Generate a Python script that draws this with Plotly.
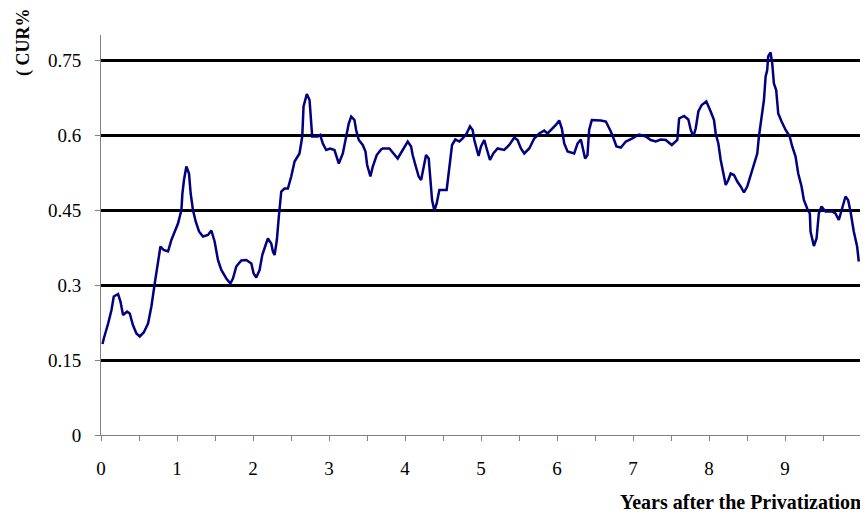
import plotly.graph_objects as go

years = [0.02, 0.037, 0.094, 0.138, 0.168, 0.225, 0.256, 0.29, 0.343, 0.378, 0.42, 0.466, 0.51, 0.562,
         0.619, 0.663, 0.707, 0.75, 0.782, 0.825, 0.882, 0.926, 0.97, 1.013, 1.058, 1.071, 1.092,
         1.123, 1.158, 1.18, 1.21, 1.246, 1.29, 1.342, 1.408, 1.452, 1.495, 1.539, 1.583, 1.649,
         1.702, 1.736, 1.78, 1.846, 1.912, 1.978, 2.008, 2.043, 2.087, 2.122, 2.166, 2.196, 2.24,
         2.262, 2.284, 2.314, 2.34, 2.372, 2.415, 2.459, 2.503, 2.547, 2.612, 2.648, 2.665, 2.708,
         2.744, 2.766, 2.779, 2.853, 2.884, 2.919, 2.963, 3.016, 3.072, 3.129, 3.182, 3.226, 3.26,
         3.292, 3.335, 3.357, 3.392, 3.444, 3.48, 3.502, 3.545, 3.576, 3.628, 3.686, 3.707, 3.795,
         3.861, 3.904, 3.97, 4.036, 4.08, 4.101, 4.137, 4.18, 4.212, 4.242, 4.277, 4.312, 4.334,
         4.356, 4.386, 4.417, 4.452, 4.505, 4.548, 4.574, 4.593, 4.619, 4.662, 4.715, 4.758, 4.811,
         4.855, 4.89, 4.912, 4.942, 4.968, 5.0, 5.043, 5.074, 5.118, 5.162, 5.218, 5.306, 5.372,
         5.438, 5.481, 5.525, 5.569, 5.635, 5.7, 5.766, 5.832, 5.875, 5.941, 5.985, 6.029, 6.064,
         6.095, 6.139, 6.226, 6.27, 6.314, 6.344, 6.37, 6.401, 6.423, 6.458, 6.511, 6.577, 6.643,
         6.708, 6.752, 6.782, 6.84, 6.906, 6.992, 7.08, 7.168, 7.234, 7.3, 7.365, 7.431, 7.51,
         7.583, 7.607, 7.672, 7.728, 7.76, 7.794, 7.825, 7.86, 7.904, 7.965, 8.022, 8.066, 8.088,
         8.123, 8.154, 8.188, 8.22, 8.254, 8.285, 8.329, 8.372, 8.417, 8.46, 8.503, 8.548, 8.591,
         8.635, 8.657, 8.679, 8.723, 8.745, 8.766, 8.779, 8.81, 8.832, 8.854, 8.884, 8.911, 8.955,
         9.008, 9.06, 9.095, 9.139, 9.174, 9.218, 9.248, 9.292, 9.327, 9.336, 9.38, 9.415, 9.445,
         9.48, 9.533, 9.62, 9.664, 9.708, 9.743, 9.796, 9.83, 9.862, 9.905, 9.949, 9.971]

cur = [0.182, 0.193, 0.223, 0.25, 0.277, 0.282, 0.267, 0.24, 0.247, 0.243, 0.22, 0.203, 0.197, 0.205,
       0.223, 0.257, 0.303, 0.35, 0.377, 0.37, 0.367, 0.39, 0.407, 0.423, 0.45, 0.483, 0.51,
       0.537, 0.523, 0.483, 0.45, 0.427, 0.407, 0.397, 0.4, 0.409, 0.387, 0.35, 0.33, 0.313,
       0.303, 0.313, 0.337, 0.349, 0.35, 0.343, 0.323, 0.315, 0.33, 0.36, 0.38, 0.393, 0.383,
       0.367, 0.36, 0.39, 0.437, 0.487, 0.493, 0.493, 0.517, 0.547, 0.563, 0.597, 0.657, 0.682,
       0.67, 0.63, 0.597, 0.597, 0.6, 0.583, 0.57, 0.573, 0.57, 0.543, 0.563, 0.597, 0.623,
       0.637, 0.63, 0.61, 0.59, 0.58, 0.567, 0.54, 0.517, 0.537, 0.56, 0.571, 0.573, 0.573,
       0.56, 0.553, 0.57, 0.587, 0.577, 0.56, 0.54, 0.517, 0.51, 0.533, 0.56, 0.553, 0.51,
       0.47, 0.449, 0.463, 0.49, 0.49, 0.49, 0.523, 0.55, 0.58, 0.591, 0.587, 0.593, 0.603,
       0.617, 0.61, 0.59, 0.573, 0.558, 0.577, 0.59, 0.573, 0.55, 0.563, 0.573, 0.57, 0.58,
       0.595, 0.59, 0.573, 0.563, 0.573, 0.593, 0.603, 0.609, 0.603, 0.613, 0.62, 0.629, 0.613,
       0.583, 0.567, 0.563, 0.583, 0.591, 0.567, 0.553, 0.56, 0.61, 0.63, 0.63, 0.629, 0.627,
       0.607, 0.59, 0.577, 0.575, 0.587, 0.593, 0.601, 0.597, 0.59, 0.587, 0.591, 0.59, 0.58,
       0.59, 0.633, 0.638, 0.631, 0.61, 0.597, 0.613, 0.647, 0.66, 0.667, 0.647, 0.63, 0.603,
       0.583, 0.55, 0.52, 0.5, 0.51, 0.523, 0.52, 0.507, 0.497, 0.485, 0.497, 0.52, 0.543,
       0.563, 0.597, 0.623, 0.67, 0.717, 0.73, 0.757, 0.765, 0.743, 0.703, 0.69, 0.643, 0.627,
       0.61, 0.598, 0.577, 0.557, 0.523, 0.497, 0.47, 0.453, 0.443, 0.407, 0.378, 0.393, 0.443,
       0.457, 0.447, 0.447, 0.443, 0.43, 0.45, 0.477, 0.47, 0.447, 0.407, 0.377, 0.347]

y_ticks = [0, 0.15, 0.3, 0.45, 0.6, 0.75]
y_labels = ["0", "0.15", "0.3", "0.45", "0.6", "0.75"]
x_ticks = [i * 0.5 for i in range(21)]
x_labels = [str(int(v)) if v == int(v) and v < 10 else "" for v in x_ticks]

FONT = "Times New Roman, Liberation Serif, serif"

fig = go.Figure()
fig.add_trace(go.Scatter(x=years, y=cur, mode="lines",
                         line=dict(color="#000080", width=2.5), showlegend=False,
                         hoverinfo="skip"))

fig.update_layout(
    width=860, height=509,
    margin=dict(l=93, r=7, t=27, b=82),
    paper_bgcolor="white", plot_bgcolor="white",
    font=dict(family=FONT, size=19, color="black"),
    xaxis=dict(range=[0, 10], tickmode="array", tickvals=x_ticks, ticktext=x_labels,
               showgrid=False, zeroline=False, showline=True, linecolor="#808080", linewidth=1,
               ticks="outside", ticklen=5, tickcolor="#808080", tickwidth=1,
               ticklabelstandoff=11),
    yaxis=dict(range=[0, 0.8], tickmode="array", tickvals=y_ticks, ticktext=y_labels,
               showgrid=True, gridcolor="black", gridwidth=2.5, zeroline=False,
               showline=True, linecolor="#808080", linewidth=1,
               ticks="outside", ticklen=5, tickcolor="#808080", tickwidth=1,
               ticklabelstandoff=10),
    annotations=[
        dict(text="<b>Years after the Privatization</b>", xref="paper", yref="paper",
             x=1.0, xshift=2, y=-0.1675, xanchor="right", yanchor="middle", showarrow=False,
             font=dict(family=FONT, size=20, color="black")),
        dict(text="<b>( CUR%</b>", xref="paper", yref="paper", x=-0.1013,
             y=0.9825, textangle=-90, xanchor="center", yanchor="middle",
             showarrow=False, font=dict(family=FONT, size=18, color="black")),
    ],
)

fig.write_html("out.html")
